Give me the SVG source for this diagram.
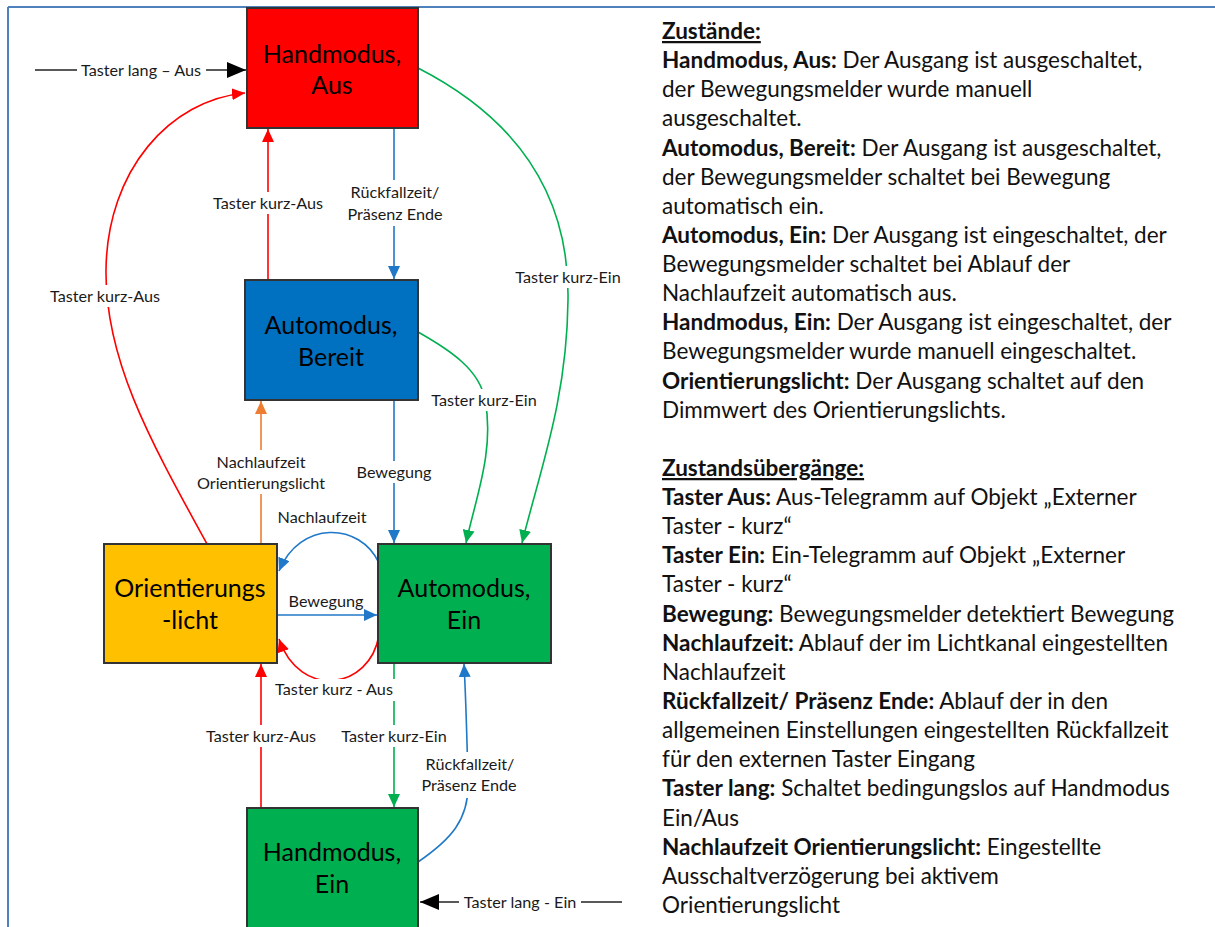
<svg xmlns="http://www.w3.org/2000/svg" width="1215" height="927" viewBox="0 0 1215 927">
<defs>
<style>
.node rect{stroke:#333;stroke-width:2}
.nt{font-family:Lato,"Liberation Sans",sans-serif;font-size:25px;fill:#000;text-anchor:middle}
.lbl{font-family:Lato,"Liberation Sans",sans-serif;font-size:16.2px;fill:#1a1a1a;text-anchor:middle}
.bg{fill:#fff}
.c{fill:none;stroke-width:1.6}
.red{stroke:#FF0000}
.blue{stroke:#1F78C8}
.green{stroke:#00B050}
.orange{stroke:#ED7D31}
.blk{stroke:#222}
.rt{font-family:Lato,"Liberation Sans",sans-serif;font-size:22.5px;fill:#111}
.b{font-weight:bold}
</style>
<marker id="mRed" markerUnits="userSpaceOnUse" markerWidth="14" markerHeight="12" refX="13" refY="6" orient="auto"><path d="M0,0 L13,6 L0,12 z" fill="#FF0000"/></marker>
<marker id="mBlue" markerUnits="userSpaceOnUse" markerWidth="14" markerHeight="12" refX="13" refY="6" orient="auto"><path d="M0,0 L13,6 L0,12 z" fill="#1F78C8"/></marker>
<marker id="mGreen" markerUnits="userSpaceOnUse" markerWidth="14" markerHeight="12" refX="13" refY="6" orient="auto"><path d="M0,0 L13,6 L0,12 z" fill="#00B050"/></marker>
<marker id="mOrange" markerUnits="userSpaceOnUse" markerWidth="14" markerHeight="12" refX="13" refY="6" orient="auto"><path d="M0,0 L13,6 L0,12 z" fill="#ED7D31"/></marker>
<marker id="mBlk" markerUnits="userSpaceOnUse" markerWidth="20" markerHeight="16" refX="19" refY="8" orient="auto"><path d="M0,0 L19,8 L0,16 z" fill="#000"/></marker>
</defs>
<rect width="1215" height="927" fill="#fff"/>
<g id="frame">
<line x1="8" y1="7" x2="1215" y2="7" stroke="#4F81BD" stroke-width="2"/>
<line x1="8" y1="7" x2="8" y2="927" stroke="#4F81BD" stroke-width="2"/>
</g>
<g id="connectors">
<line class="c blk" x1="35" y1="70" x2="246" y2="70" marker-end="url(#mBlk)"/>
<line class="c blk" x1="622" y1="902" x2="420" y2="902" marker-end="url(#mBlk)"/>
<path class="c red" d="M207,544 C150,440 105,360 106,270 C107,170 170,100 245,93" marker-end="url(#mRed)"/>
<line class="c red" x1="268" y1="280" x2="268" y2="129" marker-end="url(#mRed)"/>
<line class="c blue" x1="394" y1="128" x2="394" y2="279" marker-end="url(#mBlue)"/>
<path class="c green" d="M418,68 C500,110 570,180 568,300 C567,400 540,470 522,543" marker-end="url(#mGreen)"/>
<path class="c green" d="M418,332 C450,350 480,370 485,400 C495,450 475,500 466,543" marker-end="url(#mGreen)"/>
<line class="c blue" x1="394" y1="400" x2="394" y2="543" marker-end="url(#mBlue)"/>
<line class="c orange" x1="261" y1="544" x2="261" y2="401" marker-end="url(#mOrange)"/>
<path class="c blue" d="M379,563 C360,522 300,520 279,571" marker-end="url(#mBlue)"/>
<line class="c blue" x1="277" y1="615" x2="377" y2="615" stroke-width="2.2" marker-end="url(#mBlue)"/>
<path class="c red" d="M379,635 C370,690 300,700 279,639" marker-end="url(#mRed)"/>
<line class="c red" x1="261" y1="808" x2="261" y2="664" marker-end="url(#mRed)"/>
<line class="c green" x1="394" y1="663" x2="394" y2="807" marker-end="url(#mGreen)"/>
<path class="c blue" d="M418,862 C450,840 470,820 468,780 C467,740 466,700 464,664" marker-end="url(#mBlue)"/>
</g>
<g id="labels">
<rect class="bg" x="77" y="60" width="129" height="20"/>
<text class="lbl" x="141" y="76">Taster lang – Aus</text>
<rect class="bg" x="459" y="892" width="122" height="20"/>
<text class="lbl" x="520" y="908">Taster lang - Ein</text>
<rect class="bg" x="45" y="285" width="120" height="22"/>
<text class="lbl" x="105" y="302">Taster kurz-Aus</text>
<rect class="bg" x="208" y="192" width="120" height="22"/>
<text class="lbl" x="268" y="209">Taster kurz-Aus</text>
<rect class="bg" x="341" y="180" width="108" height="46"/>
<text class="lbl" x="395" y="198">Rückfallzeit/</text>
<text class="lbl" x="395" y="220">Präsenz Ende</text>
<rect class="bg" x="510" y="266" width="116" height="22"/>
<text class="lbl" x="568" y="283">Taster kurz-Ein</text>
<rect class="bg" x="426" y="389" width="116" height="22"/>
<text class="lbl" x="484" y="406">Taster kurz-Ein</text>
<rect class="bg" x="191" y="450" width="140" height="44"/>
<text class="lbl" x="261" y="468">Nachlaufzeit</text>
<text class="lbl" x="261" y="489">Orientierungslicht</text>
<rect class="bg" x="352" y="461" width="84" height="22"/>
<text class="lbl" x="394" y="478">Bewegung</text>
<text class="lbl" x="322" y="523">Nachlaufzeit</text>
<text class="lbl" x="326" y="607">Bewegung</text>
<rect class="bg" x="271" y="679" width="126" height="22"/>
<text class="lbl" x="334" y="695">Taster kurz - Aus</text>
<rect class="bg" x="201" y="725" width="120" height="22"/>
<text class="lbl" x="261" y="742">Taster kurz-Aus</text>
<rect class="bg" x="336" y="725" width="116" height="22"/>
<text class="lbl" x="394" y="742">Taster kurz-Ein</text>
<rect class="bg" x="416" y="752" width="108" height="46"/>
<text class="lbl" x="470" y="770">Rückfallzeit/</text>
<text class="lbl" x="469" y="791">Präsenz Ende</text>
</g>
<g id="n_hand_aus" class="node">
<rect x="247" y="8" width="171" height="120" fill="#FF0000"/>
<text class="nt" x="332" y="63">Handmodus,</text>
<text class="nt" x="332" y="94">Aus</text>
</g>
<g id="n_auto_bereit" class="node">
<rect x="245" y="280" width="173" height="120" fill="#0070C0"/>
<text class="nt" x="331" y="334">Automodus,</text>
<text class="nt" x="331" y="366">Bereit</text>
</g>
<g id="n_orient" class="node">
<rect x="104" y="544" width="173" height="119" fill="#FFC000"/>
<text class="nt" x="190" y="597">Orientierungs</text>
<text class="nt" x="190" y="629">-licht</text>
</g>
<g id="n_auto_ein" class="node">
<rect x="378" y="544" width="173" height="119" fill="#00B050"/>
<text class="nt" x="464" y="597">Automodus,</text>
<text class="nt" x="464" y="629">Ein</text>
</g>
<g id="n_hand_ein" class="node">
<rect x="247" y="808" width="171" height="130" fill="#00B050"/>
<text class="nt" x="332" y="861">Handmodus,</text>
<text class="nt" x="332" y="893">Ein</text>
</g>
<g id="legend" class="rt">
<text x="662" y="39" class="b" text-decoration="underline">Zustände:</text>
<text x="662" y="68"><tspan class="b">Handmodus, Aus:</tspan> Der Ausgang ist ausgeschaltet,</text>
<text x="662" y="97">der Bewegungsmelder wurde manuell</text>
<text x="662" y="126">ausgeschaltet.</text>
<text x="662" y="156"><tspan class="b">Automodus, Bereit:</tspan> Der Ausgang ist ausgeschaltet,</text>
<text x="662" y="185">der Bewegungsmelder schaltet bei Bewegung</text>
<text x="662" y="214">automatisch ein.</text>
<text x="662" y="243"><tspan class="b">Automodus, Ein:</tspan> Der Ausgang ist eingeschaltet, der</text>
<text x="662" y="272">Bewegungsmelder schaltet bei Ablauf der</text>
<text x="662" y="301">Nachlaufzeit automatisch aus.</text>
<text x="662" y="330"><tspan class="b">Handmodus, Ein:</tspan> Der Ausgang ist eingeschaltet, der</text>
<text x="662" y="359">Bewegungsmelder wurde manuell eingeschaltet.</text>
<text x="662" y="389"><tspan class="b">Orientierungslicht:</tspan> Der Ausgang schaltet auf den</text>
<text x="662" y="418">Dimmwert des Orientierungslichts.</text>
<text x="662" y="476" class="b" text-decoration="underline">Zustandsübergänge:</text>
<text x="662" y="505"><tspan class="b">Taster Aus:</tspan> Aus-Telegramm auf Objekt „Externer</text>
<text x="662" y="534">Taster - kurz“</text>
<text x="662" y="563"><tspan class="b">Taster Ein:</tspan> Ein-Telegramm auf Objekt „Externer</text>
<text x="662" y="592">Taster - kurz“</text>
<text x="662" y="622"><tspan class="b">Bewegung:</tspan> Bewegungsmelder detektiert Bewegung</text>
<text x="662" y="651"><tspan class="b">Nachlaufzeit:</tspan> Ablauf der im Lichtkanal eingestellten</text>
<text x="662" y="680">Nachlaufzeit</text>
<text x="662" y="709"><tspan class="b">Rückfallzeit/ Präsenz Ende:</tspan> Ablauf der in den</text>
<text x="662" y="738">allgemeinen Einstellungen eingestellten Rückfallzeit</text>
<text x="662" y="767">für den externen Taster Eingang</text>
<text x="662" y="796"><tspan class="b">Taster lang:</tspan> Schaltet bedingungslos auf Handmodus</text>
<text x="662" y="826">Ein/Aus</text>
<text x="662" y="855"><tspan class="b">Nachlaufzeit Orientierungslicht:</tspan> Eingestellte</text>
<text x="662" y="884">Ausschaltverzögerung bei aktivem</text>
<text x="662" y="913">Orientierungslicht</text>
</g>
</svg>
